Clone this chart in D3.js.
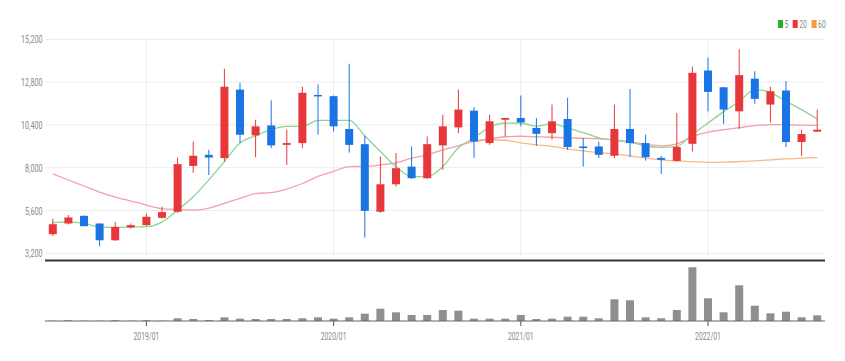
<!DOCTYPE html>
<html><head><meta charset="utf-8">
<script src="https://cdn.jsdelivr.net/npm/d3@7"></script>
<style>html,body{margin:0;padding:0;background:#fff;}svg{display:block;}</style>
</head><body>
<svg id="chart" width="845" height="361"></svg>
<script>
const months = ["2018/07","2018/08","2018/09","2018/10","2018/11","2018/12",
"2019/01","2019/02","2019/03","2019/04","2019/05","2019/06","2019/07","2019/08","2019/09","2019/10","2019/11","2019/12",
"2020/01","2020/02","2020/03","2020/04","2020/05","2020/06","2020/07","2020/08","2020/09","2020/10","2020/11","2020/12",
"2021/01","2021/02","2021/03","2021/04","2021/05","2021/06","2021/07","2021/08","2021/09","2021/10","2021/11","2021/12",
"2022/01","2022/02","2022/03","2022/04","2022/05","2022/06","2022/07","2022/08"];
const open  = [4270,4870,5300,4870,3930,4650,4780,5190,5530,8100,8720,8540,12380,9810,10370,9280,9380,12080,12010,10170,9320,5530,7070,8060,7410,9250,10260,11200,9380,10690,10790,10230,9940,10730,9190,9190,8670,10170,9380,8550,8380,9340,13450,12510,11160,12990,11540,12330,9440,10020];
const high  = [5150,5340,5330,4880,4960,4870,5440,5810,8570,9470,9000,13550,12760,10690,11780,10130,12540,12670,12050,13830,9790,8630,8820,9190,9750,10970,12380,11390,10970,10790,12050,10790,11540,11920,9660,9470,11540,12420,9850,8670,11070,13660,14170,12520,14640,13410,12540,12850,10130,11260];
const low   = [4170,4820,4720,3590,3890,4590,4740,5150,5470,7720,7590,8340,9380,8590,9100,8160,9100,9850,10030,8850,4080,5470,6940,7370,7370,7880,9940,8540,9280,9750,10320,9230,9570,9000,8060,8540,8540,8590,8400,7650,8340,8910,11160,10450,10170,11590,10540,9160,8670,10020];
const close = [4830,5210,4720,3930,4680,4780,5250,5510,8200,8670,8570,12540,9850,10320,9250,9380,12200,12010,10320,9280,5580,7070,7970,7410,9320,10320,11260,9470,10600,10790,10540,9900,10600,9160,9100,8720,10170,9380,8590,8440,9160,13320,12250,11260,13190,11860,12290,9440,9890,10130];
const ma5  = [4907,4963,4873,4681,4647,4681,4693,4946,5622,6372,7313,8344,9380,9791,10129,10315,10315,10653,10653,10653,9791,8907,8062,7498,7498,8062,9116,9678,10270,10496,10507,10327,10468,10225,9966,9678,9538,9425,9228,9144,9200,9876,10507,11144,11707,12383,12214,11724,11256,10732];
const ma20 = [7650,7310,6974,6636,6355,6130,5904,5700,5650,5622,5735,6000,6282,6552,6608,6805,7115,7510,7791,8062,8073,8158,8270,8535,8721,9003,9228,9482,9622,9735,9763,9735,9707,9678,9651,9622,9566,9453,9313,9228,9341,9735,9989,10129,10242,10355,10411,10411,10383,10372];
const ma60 = [null,null,null,null,null,null,null,null,null,null,null,null,null,null,null,null,null,null,null,null,null,null,null,null,null,null,null,9470,9566,9538,9397,9284,9200,9059,8946,8850,8777,8665,8535,8439,8383,8344,8299,8310,8344,8383,8439,8496,8535,8569];
const volume = [3,8,3,3,8,3,8,3,27,20,10,37,23,20,20,20,27,37,23,37,73,123,87,60,60,110,103,23,23,23,60,20,23,43,43,27,217,207,37,27,110,537,227,87,357,153,77,93,37,57];
const priceTicks = [3200,5600,8000,10400,12800,15200];
const yearTicks = ["2019/01","2020/01","2021/01","2022/01"];
const legendItems = [{name:"5",color:"#22b422"},{name:"20",color:"#f0303a"},{name:"60",color:"#f59a3a"}];

const svg = d3.select("#chart");
const L = 45, R = 825;
const x = d3.scaleBand().domain(months).range([L, R]).padding(0);
const cx = m => x(m) + x.bandwidth()/2;
const y = d3.scaleLinear().domain([3200, 15200]).range([253.3, 39.3]);
const yv = d3.scaleLinear().domain([0, 537]).range([321, 267.3]);
const RED = "#e8373a", BLUE = "#1a74e4";
const FONT = "Roboto, 'Liberation Sans', sans-serif";
const SX = 0.62;

function label(g, tx, ty, str, anchor, size, color) {
  g.append("text").attr("transform", `translate(${tx},${ty}) scale(${SX},1)`)
    .attr("text-anchor", anchor).attr("font-family", FONT).attr("font-size", size)
    .attr("fill", color).text(str);
}

// horizontal grid
const grid = svg.append("g");
priceTicks.forEach(t => {
  grid.append("line").attr("x1", L).attr("x2", R).attr("y1", y(t)).attr("y2", y(t))
    .attr("stroke", "#ececec").attr("stroke-width", 1);
});
// vertical grid at year ticks
yearTicks.forEach(m => {
  grid.append("line").attr("x1", cx(m)).attr("x2", cx(m)).attr("y1", 39.3).attr("y2", 256)
    .attr("stroke", "#ececec").attr("stroke-width", 1);
});
// y labels
const yl = svg.append("g");
priceTicks.forEach(t => label(yl, 42.5, y(t) + 4, d3.format(",")(t), "end", 11.5, "#8a8a8a"));

// heavy separator
svg.append("line").attr("x1", L).attr("x2", R).attr("y1", 260.5).attr("y2", 260.5)
  .attr("stroke", "#333").attr("stroke-width", 2);

// MA lines
const line = d3.line().defined(d => d.v != null).x(d => cx(d.m)).y(d => y(d.v)).curve(d3.curveMonotoneX);
[[ma60, "#f7b985"], [ma20, "#f4a0aa"], [ma5, "#8ed48e"]].forEach(([arr, col]) => {
  svg.append("path").datum(months.map((m, i) => ({m, v: arr[i]})))
    .attr("d", line).attr("fill", "none").attr("stroke", col).attr("stroke-width", 1.3);
});

// candles
const bw = 8;
const cg = svg.append("g");
months.forEach((m, i) => {
  const up = close[i] >= open[i];
  const col = up ? RED : BLUE;
  cg.append("line").attr("x1", cx(m)).attr("x2", cx(m)).attr("y1", y(high[i])).attr("y2", y(low[i]))
    .attr("stroke", col).attr("stroke-width", 1);
  const top = y(Math.max(open[i], close[i])), bot = y(Math.min(open[i], close[i]));
  cg.append("rect").attr("x", cx(m) - bw/2).attr("y", top).attr("width", bw)
    .attr("height", Math.max(1.5, bot - top)).attr("fill", col);
});

// volume bars
const vg = svg.append("g");
months.forEach((m, i) => {
  vg.append("rect").attr("x", cx(m) - 4).attr("y", yv(volume[i])).attr("width", 8)
    .attr("height", yv(0) - yv(volume[i])).attr("fill", "#8f8f8f");
});
// volume baseline + ticks
svg.append("line").attr("x1", L).attr("x2", R).attr("y1", 321).attr("y2", 321)
  .attr("stroke", "#666").attr("stroke-width", 1.2);
const xl = svg.append("g");
yearTicks.forEach(m => {
  xl.append("line").attr("x1", cx(m)).attr("x2", cx(m)).attr("y1", 321).attr("y2", 326)
    .attr("stroke", "#555").attr("stroke-width", 1);
  label(xl, cx(m), 340, m, "middle", 11, "#8a8a8a");
});

// legend
const lg = svg.append("g");
let lx = 778;
legendItems.forEach(it => {
  lg.append("rect").attr("x", lx).attr("y", 20).attr("width", 5).attr("height", 8).attr("fill", it.color);
  label(lg, lx + 6.5, 28, it.name, "start", 11, "#8a8a8a");
  lx += 6.5 + it.name.length * 4.2 + 4;
});
</script>
</body></html>
